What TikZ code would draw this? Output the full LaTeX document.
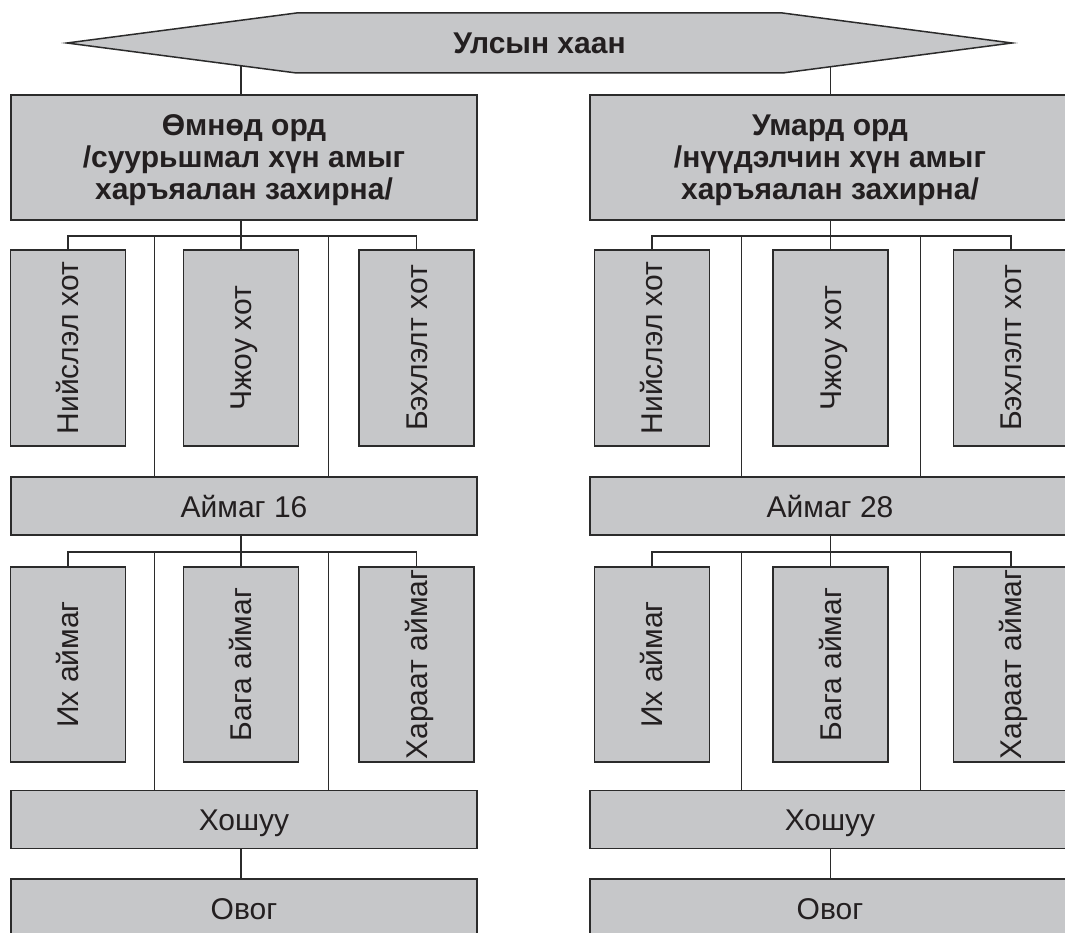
\documentclass[tikz,border=0pt]{standalone}
\usepackage{fontspec}
\setmainfont{Liberation Sans}
\usetikzlibrary{shapes.symbols}

\definecolor{boxgray}{HTML}{C6C7C9}
\definecolor{edge}{HTML}{2B2B2B}
\definecolor{ink}{HTML}{231F20}

\pgfdeclarelayer{background}
\pgfsetlayers{background,main}

% upright text turned to read bottom-up, centred on its capitals
\newcommand{\vtext}[1]{\rotatebox{90}{\raisebox{0pt}[0.73em][0pt]{#1}}}

\begin{document}
\begin{tikzpicture}[x=1pt,y=-1pt]
	\tikzstyle{block} = [rectangle, draw=edge, fill=boxgray, line width=1.5pt, 
	inner sep=0pt, text=ink, align=center, font=\fontsize{30}{30}\selectfont]
	\tikzstyle{head} = [block, minimum height=125, text depth=0pt, 
	font=\fontsize{30}{32}\bfseries\selectfont]
	\tikzstyle{wide} = [block, minimum height=58, text height=22pt, text depth=0pt]
	\tikzstyle{tall} = [block, minimum width=115, minimum height=196]
	\tikzstyle{hexa} = [signal, signal to=west and east, signal pointer angle=14.9, 
	draw=edge, fill=boxgray, line width=1.5pt, inner sep=0pt, minimum width=945, 
	minimum height=60, text=ink, text height=22pt, text depth=0pt, 
	font=\fontsize{30}{30}\bfseries\selectfont]
	\tikzstyle{line} = [draw=edge, line width=1.5pt]
	\useasboundingbox (0,0) rectangle (1065,933);
	\clip (0,0) rectangle (1065,933);
	\node (khaan) [hexa] at (539.5,43) {Улсын хаан};
	% left column
	\node (omnodOrd) [head, minimum width=466] at (244,157.5) {Өмнөд орд\\/суурьшмал хүн амыг\\харъяалан захирна/};
	\node (niislel1) [tall] at (68,348) {\vtext{Нийслэл хот}};
	\node (chzhou1) [tall] at (241,348) {\vtext{Чжоу хот}};
	\node (bekhlelt1) [tall] at (416.5,348) {\vtext{Бэхлэлт хот}};
	\node (aimag1) [wide, minimum width=466] at (244,506) {Аймаг 16};
	\node (ikh1) [tall, minimum height=195] at (68,664.5) {\vtext{Их аймаг}};
	\node (baga1) [tall, minimum height=195] at (241,664.5) {\vtext{Бага аймаг}};
	\node (kharaat1) [tall, minimum height=195] at (416.5,664.5) {\vtext{Хараат аймаг}};
	\node (khoshuu1) [wide, minimum width=466] at (244,819.5) {Хошуу};
	\node (ovog1) [wide, minimum width=466] at (244,908) {Овог};
	% right column
	\node (umardOrd) [head, minimum width=480] at (830,157.5) {Умард орд\\/нүүдэлчин хүн амыг\\харъяалан захирна/};
	\node (niislel2) [tall] at (652,348) {\vtext{Нийслэл хот}};
	\node (chzhou2) [tall] at (830.5,348) {\vtext{Чжоу хот}};
	\node (bekhlelt2) [tall] at (1011,348) {\vtext{Бэхлэлт хот}};
	\node (aimag2) [wide, minimum width=480] at (830,506) {Аймаг 28};
	\node (ikh2) [tall, minimum height=195] at (652,664.5) {\vtext{Их аймаг}};
	\node (baga2) [tall, minimum height=195] at (830.5,664.5) {\vtext{Бага аймаг}};
	\node (kharaat2) [tall, minimum height=195] at (1011,664.5) {\vtext{Хараат аймаг}};
	\node (khoshuu2) [wide, minimum width=480] at (830,819.5) {Хошуу};
	\node (ovog2) [wide, minimum width=480] at (830,908) {Овог};
	% bus levels and gaps
	\coordinate (busTop1) at (241,236);
	\coordinate (busMid1) at (241,552);
	\coordinate (gapA1) at (154.5,236);
	\coordinate (gapB1) at (328.5,236);
	\coordinate (busTop2) at (830.5,236);
	\coordinate (busMid2) at (830.5,552);
	\coordinate (gapA2) at (741.5,236);
	\coordinate (gapB2) at (920.5,236);
	% connectors
	\begin{pgfonlayer}{background}
	\draw [line] (khaan.center -| chzhou1.north) -- (omnodOrd.north -| chzhou1.north);
	\draw [line] (khaan.center -| chzhou2.north) -- (umardOrd.north -| chzhou2.north);
	\end{pgfonlayer}
	\draw [line] (omnodOrd.south -| chzhou1.north) -- (chzhou1.north);
	\draw [line] (niislel1.north) |- (busTop1) -| (bekhlelt1.north);
	\draw [line] (gapA1) -- (gapA1 |- aimag1.north);
	\draw [line] (gapB1) -- (gapB1 |- aimag1.north);
	\draw [line] (aimag1.south -| baga1.north) -- (baga1.north);
	\draw [line] (ikh1.north) |- (busMid1) -| (kharaat1.north);
	\draw [line] (gapA1 |- busMid1) -- (gapA1 |- khoshuu1.north);
	\draw [line] (gapB1 |- busMid1) -- (gapB1 |- khoshuu1.north);
	\draw [line] (khoshuu1.south -| baga1.north) -- (ovog1.north -| baga1.north);
	\draw [line] (umardOrd.south -| chzhou2.north) -- (chzhou2.north);
	\draw [line] (niislel2.north) |- (busTop2) -| (bekhlelt2.north);
	\draw [line] (gapA2) -- (gapA2 |- aimag2.north);
	\draw [line] (gapB2) -- (gapB2 |- aimag2.north);
	\draw [line] (aimag2.south -| baga2.north) -- (baga2.north);
	\draw [line] (ikh2.north) |- (busMid2) -| (kharaat2.north);
	\draw [line] (gapA2 |- busMid2) -- (gapA2 |- khoshuu2.north);
	\draw [line] (gapB2 |- busMid2) -- (gapB2 |- khoshuu2.north);
	\draw [line] (khoshuu2.south -| baga2.north) -- (ovog2.north -| baga2.north);
\end{tikzpicture}
\end{document}
